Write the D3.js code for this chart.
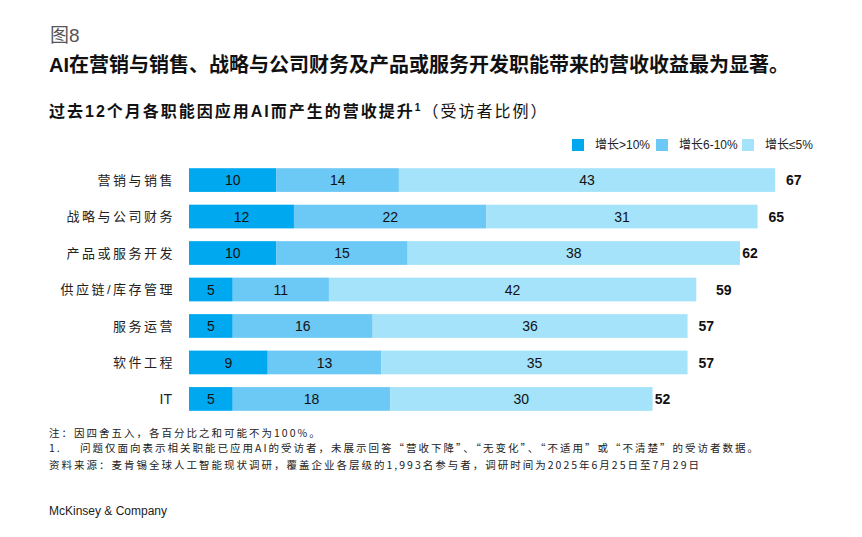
<!DOCTYPE html>
<html>
<head>
<meta charset="utf-8">
<script src="https://cdn.jsdelivr.net/npm/d3@7"></script>
<style>
  body { margin: 0; background: #fff; }
  svg text { font-family: "Liberation Sans", Arial, "Noto Sans CJK SC", sans-serif; }
  svg text.note { font-family: "Noto Sans CJK SC", sans-serif; }
</style>
</head>
<body>
<div id="container"></div>
<script>
/* DATA */
const categories = ['营销与销售', '战略与公司财务', '产品或服务开发', '供应链/库存管理', '服务运营', '软件工程', 'IT']
const over10 = [10, 12, 10, 5, 5, 9, 5]
const from6to10 = [14, 22, 15, 11, 16, 13, 18]
const upTo5 = [43, 31, 38, 42, 36, 35, 30]
const totals = [67, 65, 62, 59, 57, 57, 52]
const seriesNames = ['增长>10%', '增长6-10%', '增长≤5%']
const colors = ['#00a8f0', '#6cc8f5', '#a4e3fa']

const width = 862, height = 537

const svg = d3.select('#container')
  .append('svg')
  .attr('width', width)
  .attr('height', height)

// titles
svg.append('text').attr('x', 50).attr('y', 42)
  .attr('font-size', 19).attr('fill', '#555').text('图8')
svg.append('text').attr('x', 49).attr('y', 72)
  .attr('font-size', 20).attr('font-weight', 'bold').attr('fill', '#111')
  .text('AI在营销与销售、战略与公司财务及产品或服务开发职能带来的营收收益最为显著。')
const sub = svg.append('text').attr('x', 49).attr('y', 117)
  .attr('font-size', 16).attr('letter-spacing', 2).attr('fill', '#111')
sub.append('tspan').attr('font-weight', 'bold').text('过去12个月各职能因应用AI而产生的营收提升')
sub.append('tspan').attr('font-weight', 'bold').attr('font-size', 10).attr('dy', -6).text('1')
sub.append('tspan').attr('dy', 6).text('（受访者比例）')

// scales
const x = d3.scaleLinear().domain([0, 67]).range([189, 775])
const y = d3.scaleBand().domain(categories).range([162, 417]).paddingInner(0.35).paddingOuter(0.17)

// stacked data
const rows = categories.map((c, i) => ({ cat: c, s0: over10[i], s1: from6to10[i], s2: upTo5[i] }))
const stack = d3.stack().keys(['s0', 's1', 's2'])(rows)

const layer = svg.selectAll('g.layer')
  .data(stack)
  .join('g')
  .attr('class', 'layer')
  .attr('fill', (d, i) => colors[i])

layer.selectAll('rect')
  .data(d => d)
  .join('rect')
  .attr('x', d => x(d[0]))
  .attr('y', d => y(d.data.cat))
  .attr('width', d => x(d[1]) - x(d[0]))
  .attr('height', y.bandwidth())

layer.selectAll('text')
  .data(d => d)
  .join('text')
  .attr('x', d => (x(d[0]) + x(d[1])) / 2)
  .attr('y', d => y(d.data.cat) + y.bandwidth() / 2)
  .attr('dy', '0.36em')
  .attr('text-anchor', 'middle')
  .attr('font-size', 14)
  .attr('fill', '#111')
  .text(d => d[1] - d[0])

// totals
svg.selectAll('text.total')
  .data(categories)
  .join('text')
  .attr('class', 'total')
  .attr('x', (d, i) => x(totals[i]) + 11)
  .attr('y', d => y(d) + y.bandwidth() / 2)
  .attr('dy', '0.36em')
  .attr('font-size', 14)
  .attr('font-weight', 'bold')
  .attr('fill', '#111')
  .text((d, i) => totals[i])

// category labels (latin label "IT" without extra spacing)
svg.selectAll('text.cat')
  .data(categories)
  .join('text')
  .attr('class', 'cat')
  .attr('x', d => d === 'IT' ? 172 : 175)
  .attr('y', d => y(d) + y.bandwidth() / 2)
  .attr('dy', '0.36em')
  .attr('text-anchor', 'end')
  .attr('font-size', d => d === 'IT' ? 14 : 13)
  .attr('letter-spacing', d => d === 'IT' ? 0 : 2.5)
  .attr('fill', '#222')
  .text(d => d)

// legend
const legendX = [572, 656, 742]
const legend = svg.selectAll('g.legend')
  .data(seriesNames)
  .join('g')
  .attr('class', 'legend')
  .attr('transform', (d, i) => `translate(${legendX[i]}, 139)`)
legend.append('rect').attr('width', 12).attr('height', 12).attr('fill', (d, i) => colors[i])
legend.append('text').attr('x', 23).attr('y', 6).attr('dy', '0.36em')
  .attr('font-size', 12).attr('fill', '#222').text(d => d)

// footnotes
const notes = [
  { x: 49, t: '注：因四舍五入，各百分比之和可能不为100%。' },
  { x: 49, t: '1.' },
  { x: 80, t: '问题仅面向表示相关职能已应用AI的受访者，未展示回答“营收下降”、“无变化”、“不适用”或“不清楚”的受访者数据。' },
  { x: 49, t: '资料来源：麦肯锡全球人工智能现状调研，覆盖企业各层级的1,993名参与者，调研时间为2025年6月25日至7月29日' }
]
const noteY = [437, 452, 452, 469]
svg.selectAll('text.note')
  .data(notes)
  .join('text')
  .attr('class', 'note')
  .attr('x', d => d.x)
  .attr('y', (d, i) => noteY[i])
  .attr('font-size', 10.5)
  .attr('letter-spacing', 2)
  .attr('fill', '#222')
  .text(d => d.t)

svg.append('text').attr('x', 49).attr('y', 515)
  .attr('font-size', 12).attr('fill', '#222').text('McKinsey & Company')
</script>
</body>
</html>
